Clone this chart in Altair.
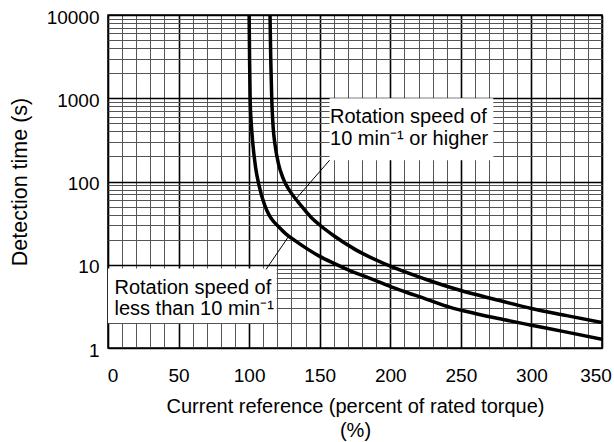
import altair as alt
import pandas as pd

# ---- data ----
lower_x = [100, 100.3, 100.7, 101.5, 102.5, 104.5, 107, 111, 114, 117, 120.5, 126, 132.5,
           142, 150, 160, 172, 183, 195, 207, 225, 242, 260, 280, 300, 325, 350]
lower_t = [10000, 3000, 1000, 500, 300, 150, 90, 52, 40, 33.5, 29, 23.5, 19.5,
           15.2, 12.6, 10.4, 8.4, 7.15, 5.95, 4.95, 3.9, 3.1, 2.6, 2.2, 1.88, 1.55, 1.27]

upper_x = [114.8, 115.3, 116, 117, 118.3, 120.7, 124, 127, 130, 136.5, 144, 150, 160,
           175, 200, 225, 250, 275, 300, 325, 350]
upper_t = [10000, 3000, 1000, 450, 280, 165, 110, 86, 72, 52, 37, 30, 22.3,
           15.3, 9.6, 6.7, 4.9, 3.8, 2.98, 2.45, 2.02]

x_ticks = [0, 10, 20, 30, 40, 50, 60, 70, 80, 90, 100, 110, 120, 130, 140, 150, 160, 170,
           180, 190, 200, 210, 220, 230, 240, 250, 260, 270, 280, 290, 300, 310, 320, 330,
           340, 350]
y_ticks = [1, 2, 3, 4, 5, 6, 7, 8, 9,
           10, 20, 30, 40, 50, 60, 70, 80, 90,
           100, 200, 300, 400, 500, 600, 700, 800, 900,
           1000, 2000, 3000, 4000, 5000, 6000, 7000, 8000, 9000,
           10000]

# annotation boxes (data coordinates)
box_x = [157, 0]
box_x2 = [273, 119.5]
box_y = [180, 2]
box_y2 = [1000, 9]

# leader lines
lead_x = [157, 112]
lead_x2 = [132.5, 127.8]
lead_y = [180, 8.8]
lead_y2 = [60, 21.7]

# annotation texts
ann_text = ["Rotation speed of", "10 min\u207b\u00b9 or higher",
            "Rotation speed of", "less than 10 min\u207b\u00b9"]
ann_x = [157.3, 157.3, 4.6, 4.6]
ann_y = [501, 275, 4.51, 2.52]

# ---- tables (same column names in every layer) ----
curves = pd.concat([
    pd.DataFrame({"x": lower_x, "y": lower_t, "series": "lower"}),
    pd.DataFrame({"x": upper_x, "y": upper_t, "series": "upper"}),
])
boxes = pd.DataFrame({"x": box_x, "x2": box_x2, "y": box_y, "y2": box_y2})
leads = pd.DataFrame({"x": lead_x, "x2": lead_x2, "y": lead_y, "y2": lead_y2})
texts = pd.DataFrame({"x": ann_x, "y": ann_y, "label": ann_text})

xscale = alt.Scale(domain=[0, 350], nice=False, zero=False)
yscale = alt.Scale(type="log", domain=[1, 10000], nice=False)

x_major = "datum.value % 50 === 0"
y_major = ("datum.value === 1 || datum.value === 10 || datum.value === 100 || "
           "datum.value === 1000 || datum.value === 10000")

xaxis = alt.Axis(
    values=x_ticks,
    labelExpr=f"({x_major}) ? format(datum.value, 'd') : ''",
    labelOverlap=False,
    labelFlush=False,
    ticks=False,
    domain=False,
    labelFontSize=19,
    labelFontWeight="normal",
    labelPadding=18,
    labelOffset={"condition": [{"test": "datum.value === 0", "value": 4.5},
                               {"test": "datum.value === 350", "value": -6.5}],
                 "value": 0},
    labelColor="black",
    grid=True,
    gridColor={"condition": {"test": x_major, "value": "black"}, "value": "#555555"},
    gridWidth={"condition": {"test": x_major, "value": 1.6}, "value": 1},
    gridOpacity=1,
    title=["Current reference (percent of rated torque)", "(%)"],
    titleFontSize=20,
    titleFontWeight="normal",
    titleColor="black",
    titleLineHeight=24,
    titleBaseline="top",
    titleY=48,
)
yaxis = alt.Axis(
    values=y_ticks,
    labelExpr=f"({y_major}) ? format(datum.value, 'd') : ''",
    labelOverlap=False,
    labelFlush=False,
    ticks=False,
    domain=False,
    labelFontSize=19,
    labelFontWeight="normal",
    labelPadding=9,
    labelOffset=2,
    labelColor="black",
    grid=True,
    gridColor={"condition": {"test": y_major, "value": "black"}, "value": "#555555"},
    gridWidth={"condition": {"test": y_major, "value": 1.4}, "value": 1},
    gridOpacity=1,
    title="Detection time (s)",
    titleFontSize=21.5,
    titleFontWeight="normal",
    titleColor="black",
    titleX=-88,
    titleBaseline="middle",
)

X = alt.X("x:Q", scale=xscale, axis=xaxis)
Y = alt.Y("y:Q", scale=yscale, axis=yaxis)

box_layer = alt.Chart(boxes).mark_rect(color="white", opacity=1).encode(
    x=X, x2="x2:Q", y=Y, y2="y2:Q",
)

lead_layer = alt.Chart(leads).mark_rule(color="black", strokeWidth=1).encode(
    x=X, x2="x2:Q", y=Y, y2="y2:Q",
)

line_layer = alt.Chart(curves).mark_line(
    color="black", strokeWidth=3.5, clip=True, interpolate="monotone"
).encode(
    x=X, y=Y, detail="series:N", order="x:Q",
)

text_layer = alt.Chart(texts).mark_text(
    align="left", baseline="alphabetic", fontSize=20, color="black"
).encode(
    x=X, y=Y, text="label:N",
)

chart = alt.layer(box_layer, lead_layer, line_layer, text_layer).properties(
    width=494,
    height=333,
    autosize=alt.AutoSizeParams(type="none"),
    padding={"left": 108, "top": 15, "right": 12, "bottom": 94},
).configure(
    font="Liberation Sans",
).configure_view(
    stroke="black",
    strokeWidth=1.5,
)

chart.save("out.html", embed_options={"renderer": "svg", "actions": False})
